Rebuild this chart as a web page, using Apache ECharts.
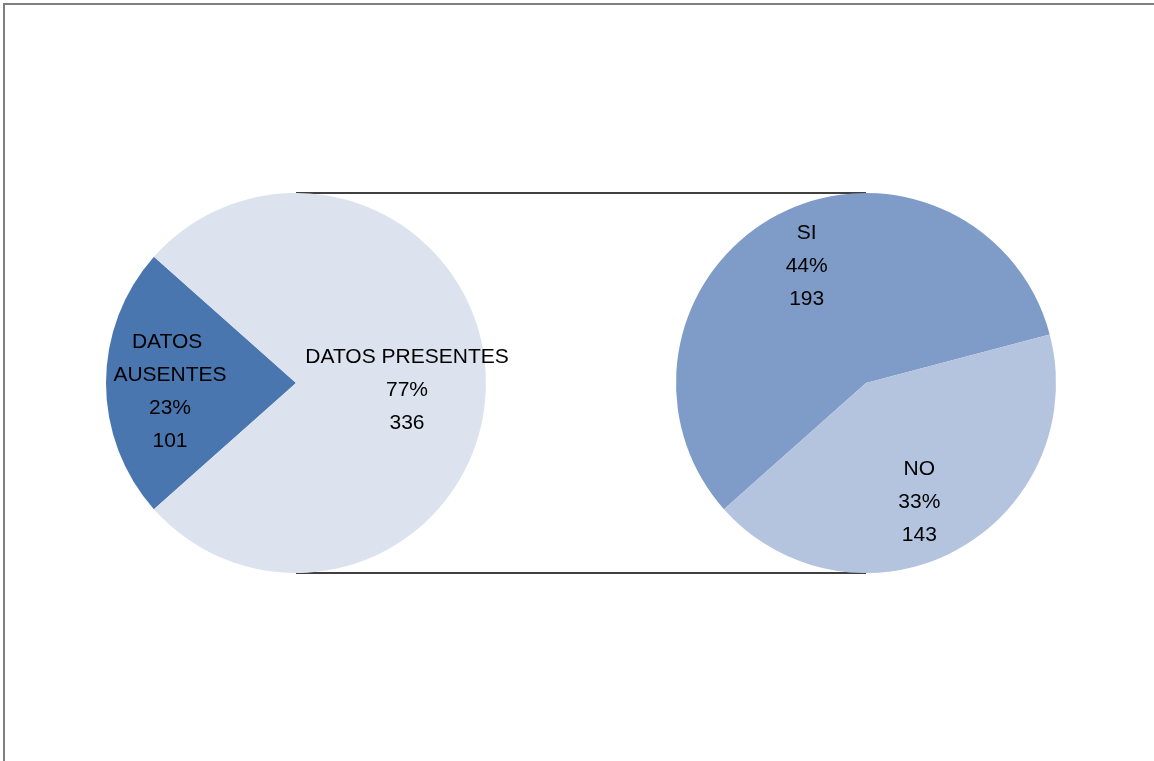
<!DOCTYPE html>
<html>
<head>
<meta charset="utf-8">
<script src="https://cdn.jsdelivr.net/npm/echarts@6/dist/echarts.min.js"></script>
<style>
  html, body { margin: 0; padding: 0; background: #ffffff; }
  #chart { width: 1154px; height: 761px; }
</style>
</head>
<body>
<div id="chart"></div>
<script>
// Main split: records with and without data
const mainCategories = ['DATOS AUSENTES', 'DATOS PRESENTES'];
const mainValues = [101, 336];
// Breakdown of the "DATOS PRESENTES" slice
const detailCategories = ['SI', 'NO'];
const detailValues = [193, 143];

const total = mainValues.reduce((a, b) => a + b, 0);

// Layout
const radius = 190;
const centerY = 383;
const leftX = 296;
const rightX = 866;
const startAngle = 221.6;

const mainColors = ['#4A76AF', '#DCE3EF'];
const detailColors = ['#7F9CC8', '#B4C3DE'];
const mainLabelOffsets = [[-28, 9], [13, 7]];
const detailLabelOffsets = [[-13, -30], [7, 33]];
const mainLabelWidths = [128, 0];

const fontFamily = '"Liberation Sans", Arial, sans-serif';

function pct(v) { return Math.round(v / total * 100) + '%'; }

function labelText(p) {
  return p.name + '\n' + pct(p.value) + '\n' + p.value;
}

function buildData(cats, vals, colors, offsets, widths) {
  return cats.map((name, i) => ({
    name: name,
    value: vals[i],
    itemStyle: { color: colors[i] },
    label: Object.assign({ offset: offsets[i] }, widths && widths[i] ? { width: widths[i], overflow: 'break' } : {})
  }));
}

const baseLabel = {
  show: true,
  position: 'inside',
  formatter: labelText,
  color: '#000000',
  fontFamily: fontFamily,
  fontSize: 21,
  lineHeight: 33,
  align: 'center'
};

const chart = echarts.init(document.getElementById('chart'), null, { renderer: 'canvas' });

chart.setOption({
  animation: false,
  backgroundColor: '#ffffff',
  graphic: [
    {
      type: 'rect',
      shape: { x: 4, y: 4, width: 1300, height: 900 },
      style: { fill: 'none', stroke: '#808080', lineWidth: 2 },
      z: 0
    },
    {
      type: 'line',
      shape: { x1: leftX, y1: centerY - radius, x2: rightX, y2: centerY - radius },
      style: { stroke: '#000000', lineWidth: 1.5 },
      z: 0
    },
    {
      type: 'line',
      shape: { x1: leftX, y1: centerY + radius, x2: rightX, y2: centerY + radius },
      style: { stroke: '#000000', lineWidth: 1.5 },
      z: 0
    }
  ],
  series: [
    {
      type: 'pie',
      center: [leftX, centerY],
      radius: [0, radius],
      startAngle: startAngle,
      clockwise: true,
      avoidLabelOverlap: false,
      emphasis: { disabled: true },
      label: baseLabel,
      labelLine: { show: false },
      itemStyle: { borderWidth: 0 },
      data: buildData(mainCategories, mainValues, mainColors, mainLabelOffsets, mainLabelWidths)
    },
    {
      type: 'pie',
      center: [rightX, centerY],
      radius: [0, radius],
      startAngle: startAngle,
      clockwise: true,
      avoidLabelOverlap: false,
      emphasis: { disabled: true },
      label: baseLabel,
      labelLine: { show: false },
      itemStyle: { borderWidth: 0 },
      data: buildData(detailCategories, detailValues, detailColors, detailLabelOffsets, null)
    }
  ]
});
</script>
</body>
</html>
